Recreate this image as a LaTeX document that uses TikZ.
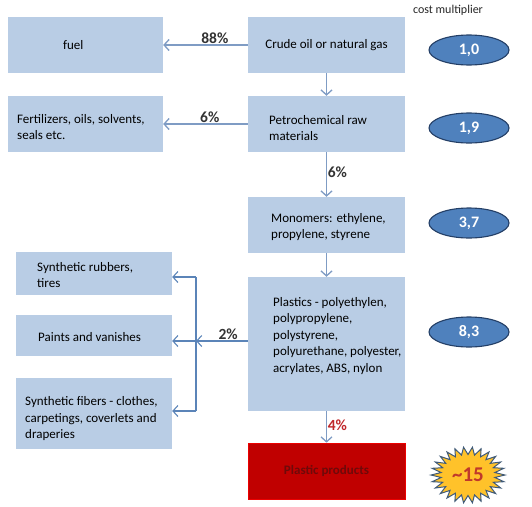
\documentclass[tikz,border=0pt]{standalone}
\usepackage{fontspec}
\setmainfont{Carlito}
\usetikzlibrary{arrows.meta,shapes.geometric}
\definecolor{boxblue}{HTML}{B9CDE5}
\definecolor{arrowc}{HTML}{7F9CC4}
\definecolor{brkc}{HTML}{5B84B8}
\definecolor{ellfill}{HTML}{4F81BD}
\definecolor{elldraw}{HTML}{243F66}
\definecolor{redfill}{HTML}{C00000}
\definecolor{redtext}{HTML}{6E0A0A}
\definecolor{sunfill}{HTML}{FFC22A}
\definecolor{sundraw}{HTML}{3F5A78}
\definecolor{suntext}{HTML}{C0392B}
\definecolor{labred}{HTML}{C0282B}
\newcommand{\boxfont}{\fontsize{13}{16.5}\selectfont}
\tikzset{
  box/.style={fill=boxblue, inner sep=0pt},
  txt/.style={anchor=west, align=left, inner sep=0pt, font=\boxfont, text=black},
  arr/.style={draw=arrowc, line width=1.5pt, -{Straight Barb[length=5pt,width=11pt,line width=1.3pt]}},
  brk/.style={draw=brkc, line width=1.1pt},
  barr/.style={draw=brkc, line width=1.1pt, -{Straight Barb[length=5pt,width=11pt,line width=1.1pt]}},
  cost/.style={ellipse, fill=ellfill, draw=elldraw, line width=1.1pt, minimum width=80pt, minimum height=30pt, inner sep=0pt, text=white, font=\fontsize{16}{18}\selectfont\bfseries},
  pct/.style={font=\fontsize{15.5}{17}\selectfont\bfseries, text=black!80, inner sep=0.5pt}
}
\begin{document}
\begin{tikzpicture}[x=1pt,y=-1pt]
\useasboundingbox (0,0) rectangle (532,506);

% right column boxes
\node[box, minimum width=157pt, minimum height=56pt, font=\boxfont, text=black] (crude) at (326.5,45) {Crude oil or natural gas};
\node[box, minimum width=157pt, minimum height=56pt] (petro) at (326.5,124) {};
\node[box, minimum width=157pt, minimum height=56pt] (mono) at (326.5,225) {};
\node[box, minimum width=157pt, minimum height=134pt] (plast) at (326.5,344) {};
\node[box, fill=redfill, draw=red!70!redfill, line width=0.6pt, minimum width=157pt, minimum height=56pt, text=redtext, font=\boxfont\bfseries] (prod) at (326.5,471) {Plastic products};

\node[txt] (petro-t) at (269,128) {Petrochemical raw\\materials};
\node[txt] (mono-t) at (271,227) {Monomers: ethylene,\\propylene, styrene};
\node[txt] (plast-t) at (273,336) {Plastics - polyethylen,\\polypropylene,\\polystyrene,\\polyurethane, polyester,\\acrylates, ABS, nylon};

% left column
\node[box, minimum width=155pt, minimum height=56pt] (fuel) at (85.5,45) {};
\node[txt] (fuel-t) at (63,45) {fuel};
\node[box, minimum width=155pt, minimum height=56pt] (fert) at (85.5,124) {};
\node[txt] (fert-t) at (17,127) {Fertilizers, oils, solvents,\\seals etc.};
\node[box, minimum width=156pt, minimum height=43pt] (rubb) at (94,273.5) {};
\node[txt] (rubb-t) at (37,275) {Synthetic rubbers,\\tires};
\node[box, minimum width=156pt, minimum height=41pt] (paint) at (94,335.5) {};
\node[txt] (paint-t) at (38,337) {Paints and vanishes};
\node[box, minimum width=156pt, minimum height=71pt] (fib) at (94,413.5) {};
\node[txt] (fib-t) at (25,419) {Synthetic fibers - clothes,\\carpetings, coverlets and\\draperies};

% cost multipliers
\node[font=\fontsize{12}{14}\selectfont, text=black!85, inner sep=0pt] (cm) at (448,10) {cost multiplier};
\node[cost] (c1) at (469,50) {1,0};
\node[cost] (c2) at (469,128) {1,9};
\node[cost] (c3) at (469,223) {3,7};
\node[cost] (c4) at (469,332) {8,3};

% sun
\begin{scope}[shift={(468,475)}, xscale=1.32]
\filldraw[fill=sunfill, draw=sundraw, line width=1pt]
  (0:28) \foreach \k in {0,...,25}{ -- ({\k*360/26}:28) -- ({\k*360/26+180/26}:20.5) } -- cycle;
\end{scope}
\node[font=\fontsize{21}{23}\selectfont\bfseries, text=suntext, inner sep=0pt] (sun) at (468,475) {\textasciitilde15};

% vertical arrows
\draw[arr] (crude.south) -- (petro.north);
\draw[arr] (petro.south) -- node[pct, right, pos=0.45] (p6b) {6\%} (mono.north);
\draw[arr] (mono.south) -- (plast.north);
\draw[arr] (plast.south) -- node[pct, right, text=labred, pos=0.45] (p4) {4\%} (prod.north);

% horizontal arrows
\draw[arr] (crude.west) -- node[pct, above, pos=0.39] (p88) {88\%} (fuel.east);
\draw[arr] (petro.west) -- node[pct, above, pos=0.45] (p6a) {6\%} (fert.east);

% bracket
\coordinate (jn) at (196,341);
\coordinate (bt) at (196,277);
\coordinate (bb) at (196,411);
\draw[barr] (plast.west |- jn) -- node[pct, above, pos=0.38] (p2) {2\%} (jn);
\draw[brk] (bt) -- (bb);
\draw[barr] (bt) -- (bt -| rubb.east);
\draw[barr] (jn) -- (jn -| paint.east);
\draw[barr] (bb) -- (bb -| fib.east);
\end{tikzpicture}
\end{document}
